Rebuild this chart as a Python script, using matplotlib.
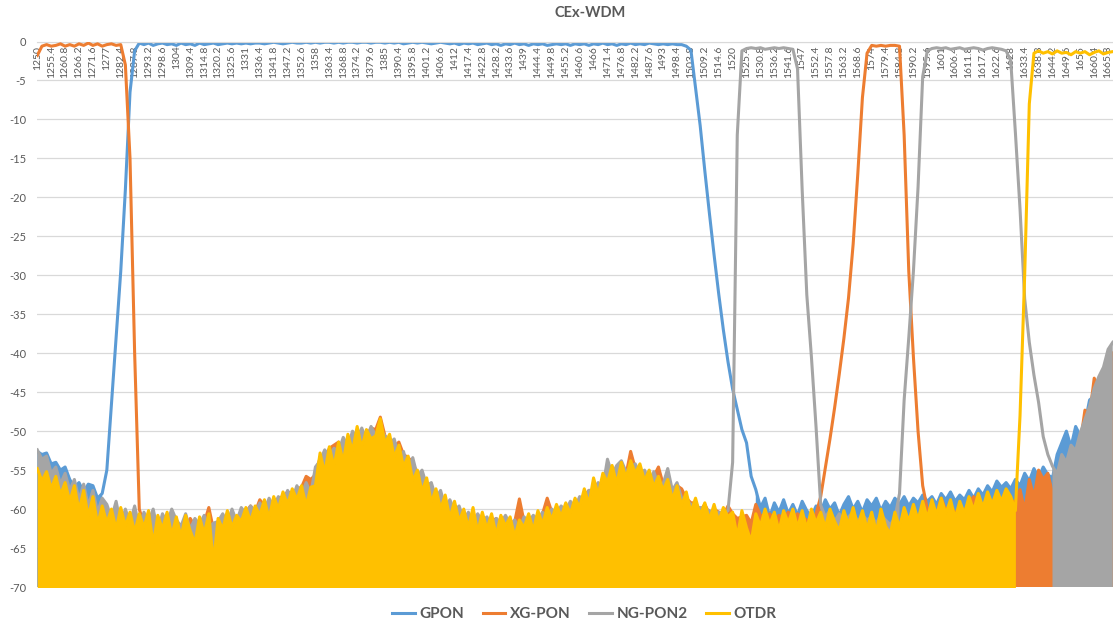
import numpy as np
import matplotlib.pyplot as plt

plt.rcParams['font.family'] = ['Lato', 'DejaVu Sans']
plt.rcParams['axes.unicode_minus'] = False

# wavelength categories (nm), one reading every 1.8 nm
wavelength = np.round(1250 + 1.8 * np.arange(233), 1)
# category labels shown on the axis (every 5.4 nm)
tick_vals = np.round(1250 + 5.4 * np.arange(78), 1)
tick_labels = ['%g' % v for v in tick_vals]

# insertion loss (dB)
gpon = [
    -52.6, -53.0, -52.8, -54.2, -54.0, -55.0, -54.6, -56.2, -57.2, -56.6, -57.8, -56.8, -57.0, -58.6, -58.0,
    -55.0, -46.5, -38.0, -29.5, -19.0, -6.5, -1.2, -0.2, -0.4, -0.2, -0.5, -0.3, -0.2, -0.4, -0.3,
    -0.5, -0.2, -0.4, -0.3, -0.5, -0.2, -0.4, -0.3, -0.2, -0.4, -0.3, -0.2, -0.3, -0.2, -0.3,
    -0.2, -0.3, -0.2, -0.2, -0.3, -0.2, -0.1, -0.2, -0.3, -0.2, -0.1, -0.2, -0.2, -0.1, -0.2,
    -0.1, -0.2, -0.1, -0.1, -0.2, -0.1, -0.2, -0.1, -0.1, -0.2, -0.1, -0.1, -0.2, -0.1, -0.1,
    -0.2, -0.1, -0.2, -0.1, -0.3, -0.2, -0.1, -0.2, -0.1, -0.2, -0.3, -0.2, -0.1, -0.2, -0.3,
    -0.2, -0.4, -0.2, -0.3, -0.2, -0.4, -0.3, -0.2, -0.4, -0.3, -0.5, -0.3, -0.4, -0.2, -0.4,
    -0.3, -0.5, -0.3, -0.4, -0.3, -0.5, -0.4, -0.3, -0.4, -0.3, -0.5, -0.3, -0.4, -0.3, -0.5,
    -0.3, -0.4, -0.2, -0.4, -0.3, -0.5, -0.3, -0.4, -0.2, -0.4, -0.3, -0.4, -0.2, -0.3, -0.4,
    -0.3, -0.4, -0.3, -0.4, -0.4, -0.6, -1.1, -5.9, -10.8, -16.6, -22.1, -27.4, -32.4, -37.0, -41.1,
    -44.6, -47.2, -49.8, -51.5, -55.8, -57.5, -59.8, -58.6, -61.0, -59.2, -60.4, -58.8, -60.6, -59.4, -60.8,
    -59.0, -60.2, -61.0, -59.6, -60.4, -58.8, -60.0, -59.2, -60.8, -59.4, -58.4, -60.0, -59.0, -60.4, -58.8,
    -59.6, -58.6, -60.2, -59.0, -59.8, -58.6, -59.4, -58.4, -59.6, -58.6, -59.2, -58.2, -59.0, -58.4, -59.4,
    -58.0, -58.8, -57.8, -59.0, -58.2, -58.8, -57.6, -58.6, -57.4, -58.2, -57.0, -57.8, -56.4, -57.2, -56.6,
    -57.4, -56.2, -57.0, -55.4, -56.4, -54.8, -56.0, -54.6, -55.6, -56.0, -53.0, -51.5, -50.0, -52.0, -49.4,
    -50.6, -49.0, -46.0, -45.5, -44.0, -43.5, -41.5, -40.5,
]
xgpon = [
    -1.8, -0.6, -0.4, -0.6, -0.5, -0.3, -0.6, -0.4, -0.6, -0.3, -0.5, -0.2, -0.5, -0.3, -0.6,
    -0.4, -0.3, -0.5, -0.4, -3.0, -15.0, -40.0, -60.0, -62.0, -60.6, -61.2, -61.6, -62.0, -61.4, -61.8,
    -62.2, -62.0, -62.6, -61.2, -62.2, -62.4, -61.8, -59.8, -62.6, -62.8, -61.6, -61.4, -61.6, -61.8, -61.0,
    -60.4, -59.6, -60.4, -58.8, -59.6, -59.0, -59.2, -58.6, -58.4, -57.8, -58.0, -57.4, -57.2, -55.8, -56.2,
    -55.6, -53.4, -53.6, -52.2, -51.8, -51.4, -52.8, -50.8, -51.2, -50.2, -50.0, -50.6, -49.6, -49.8, -48.2,
    -50.6, -51.2, -52.0, -51.4, -53.0, -53.4, -54.0, -55.6, -56.4, -57.0, -57.6, -58.2, -59.0, -59.2, -59.8,
    -59.6, -60.2, -61.0, -60.8, -61.4, -61.2, -61.8, -61.4, -61.6, -61.2, -62.0, -61.8, -61.8, -61.6, -58.7,
    -61.6, -62.0, -61.4, -61.2, -60.6, -58.6, -60.4, -60.6, -60.0, -59.8, -59.4, -59.2, -58.8, -58.4, -57.6,
    -58.0, -57.8, -57.0, -56.6, -55.6, -56.2, -55.4, -55.6, -52.6, -54.8, -55.8, -55.2, -56.2, -55.8, -54.6,
    -56.8, -55.8, -58.0, -57.0, -57.4, -58.6, -59.2, -59.2, -60.2, -59.4, -60.6, -60.0, -60.4, -60.8, -59.6,
    -60.6, -61.2, -61.0, -60.8, -61.8, -59.4, -60.8, -61.0, -60.6, -61.4, -60.8, -61.2, -60.4, -61.0, -60.6,
    -61.0, -61.4, -62.0, -60.6, -58.4, -54.7, -51.0, -47.0, -42.7, -38.1, -32.9, -26.0, -17.0, -7.2, -1.5,
    -0.5, -0.6, -0.5, -0.6, -0.5, -0.5, -0.6, -12.0, -29.5, -40.5, -50.0, -57.0, -60.0, -61.4, -60.6,
    -58.6, -60.2, -59.4, -60.6, -59.8, -60.2, -59.2, -58.4, -59.0, -60.2, -59.0, -59.4, -58.6, -59.0, -58.4,
    -59.0, -59.0, -57.5, -60.2, -56.2, -58.5, -55.0, -56.2, -55.4, -58.0, -57.0, -55.0, -54.5, -53.0, -52.8,
    -51.5, -47.3, -48.0, -43.2, -44.5, -43.5, -41.0, -40.0,
]
ngpon2 = [
    -52.4, -53.6, -53.2, -55.4, -54.6, -56.8, -55.4, -57.6, -56.2, -58.8, -56.8, -59.6, -57.6, -60.4, -58.6,
    -59.4, -61.2, -59.0, -62.0, -60.0, -61.8, -59.6, -62.4, -60.4, -61.6, -60.0, -62.8, -60.6, -61.8, -60.0,
    -61.4, -62.2, -60.6, -62.6, -61.2, -62.0, -60.8, -62.4, -61.8, -61.6, -60.6, -61.8, -60.0, -61.6, -59.8,
    -60.6, -59.6, -60.4, -59.2, -60.2, -58.6, -59.8, -58.4, -59.2, -57.6, -58.8, -57.0, -58.2, -56.6, -58.0,
    -54.6, -53.8, -52.4, -53.2, -52.2, -52.6, -50.8, -52.0, -50.0, -51.0, -49.6, -51.2, -49.4, -50.6, -49.8,
    -50.6, -51.6, -51.0, -53.4, -52.6, -54.8, -53.4, -55.8, -55.0, -57.0, -56.6, -58.6, -57.6, -59.8, -58.8,
    -60.2, -59.6, -61.4, -60.4, -62.0, -60.6, -61.6, -61.0, -62.4, -61.2, -61.8, -60.8, -62.0, -61.4, -62.6,
    -61.0, -61.6, -60.8, -61.4, -60.4, -61.0, -60.0, -60.6, -59.6, -60.2, -59.0, -59.8, -58.4, -58.8, -57.6,
    -57.6, -56.6, -57.2, -53.6, -55.6, -54.4, -53.8, -55.2, -54.6, -54.2, -55.6, -55.0, -56.6, -55.2, -57.0,
    -56.8, -54.8, -57.6, -56.6, -58.6, -58.8, -59.4, -59.8, -59.8, -60.0, -60.2, -60.8, -60.4, -60.6, -60.2,
    -54.0, -12.0, -1.2, -0.9, -0.8, -0.9, -0.8, -1.0, -0.9, -0.8, -0.9, -0.8, -0.9, -1.0, -3.5,
    -19.0, -32.5, -40.5, -49.5, -59.5, -61.0, -60.2, -61.6, -60.6, -61.8, -61.0, -60.4, -61.6, -60.8, -61.4,
    -61.0, -61.8, -60.8, -61.4, -62.0, -61.2, -58.0, -46.0, -38.0, -29.5, -18.7, -4.5, -1.2, -0.9, -0.8,
    -0.9, -0.8, -1.0, -0.9, -0.8, -1.0, -0.9, -0.8, -0.9, -1.1, -0.9, -0.8, -0.9, -1.0, -1.2,
    -2.5, -11.7, -21.5, -33.0, -38.6, -42.8, -46.3, -50.7, -53.0, -54.5, -55.5, -53.0, -54.0, -51.8, -52.5,
    -50.2, -48.5, -46.8, -44.5, -43.0, -41.8, -39.5, -38.6,
]
otdr = [
    -54.8, -56.4, -55.2, -57.4, -55.8, -58.2, -56.6, -59.0, -57.0, -60.2, -57.6, -61.0, -58.4, -62.0, -59.6,
    -61.8, -60.0, -62.6, -59.8, -62.2, -60.4, -63.0, -60.6, -62.4, -60.2, -64.6, -60.8, -62.6, -60.4, -63.4,
    -61.0, -63.6, -60.8, -62.8, -64.4, -61.0, -63.2, -60.6, -67.0, -61.2, -62.6, -60.2, -62.4, -60.8, -61.6,
    -59.8, -61.6, -59.6, -60.8, -58.8, -61.2, -58.4, -60.0, -57.8, -59.4, -57.4, -58.8, -57.0, -59.6, -57.2,
    -57.0, -52.8, -55.4, -52.0, -54.6, -51.4, -54.0, -50.4, -52.6, -49.4, -52.2, -49.8, -51.0, -50.6, -48.4,
    -51.6, -50.4, -53.4, -51.8, -54.6, -53.2, -56.4, -55.0, -57.8, -56.0, -59.2, -57.4, -60.0, -58.2, -61.2,
    -59.0, -61.6, -60.0, -62.4, -59.8, -63.0, -60.4, -62.6, -60.6, -63.4, -60.8, -62.2, -61.0, -63.6, -61.4,
    -62.4, -60.6, -62.8, -60.2, -62.0, -59.8, -61.4, -59.4, -61.0, -59.2, -60.6, -58.6, -59.8, -57.4, -59.4,
    -56.0, -58.2, -55.4, -56.6, -54.4, -56.8, -54.0, -56.0, -53.8, -55.4, -54.2, -56.4, -55.0, -57.2, -55.8,
    -57.6, -56.2, -58.8, -57.0, -59.6, -57.8, -60.4, -58.6, -60.8, -59.2, -61.4, -59.4, -61.6, -59.8, -61.0,
    -60.4, -63.6, -60.2, -62.4, -64.2, -60.6, -62.2, -60.0, -62.0, -60.4, -62.8, -60.2, -61.8, -60.0, -62.4,
    -60.2, -62.6, -60.0, -61.8, -60.4, -62.4, -60.0, -61.6, -62.8, -60.2, -62.0, -59.8, -62.2, -60.2, -62.6,
    -60.4, -63.0, -60.0, -62.2, -63.2, -60.4, -62.4, -59.8, -61.6, -59.4, -61.4, -59.0, -61.2, -58.8, -60.8,
    -58.6, -60.6, -58.8, -61.2, -59.0, -60.6, -58.4, -60.2, -58.0, -59.8, -57.8, -59.4, -57.6, -59.0, -57.4,
    -58.4, -60.2, -48.0, -30.0, -8.0, -1.5, -1.2, -1.5, -1.3, -1.6, -1.2, -1.5, -1.4, -1.7, -1.3,
    -1.5, -1.3, -1.7, -1.4, -1.2, -1.6, -1.4, -1.3,
]

# wavelength spans (nm) where each trace sits on the dense noise floor
gpon_floor = [(1250.0, 1275.2), (1529.0, 1667.6)]
xgpon_floor = [(1289.6, 1554.2), (1595.6, 1667.6)]
ngpon2_floor = [(1250.0, 1518.2), (1554.2, 1584.8), (1644.2, 1667.6)]
otdr_floor = [(1250.0, 1629.8)]

series = [
    ('GPON', gpon, '#5B9BD5', gpon_floor),
    ('XG-PON', xgpon, '#ED7D31', xgpon_floor),
    ('NG-PON2', ngpon2, '#A5A5A5', ngpon2_floor),
    ('OTDR', otdr, '#FFC000', otdr_floor),
]

fig = plt.figure(figsize=(11.13, 6.29), dpi=100)
ax = fig.add_axes([37.3 / 1113, 1 - 587 / 629, (1113 - 37.3) / 1113, (587 - 41.5) / 629])

for i, (name, vals, col, floor) in enumerate(series):
    v = np.array(vals)
    mask = np.zeros(len(wavelength), dtype=bool)
    for a, b in floor:
        mask |= (wavelength >= a - 0.01) & (wavelength <= b + 0.01)
    ax.fill_between(wavelength, v, -75, where=mask, color=col, lw=0, zorder=2 + i)
    ax.plot(wavelength, v, color=col, lw=2.2, label=name, zorder=2 + i)

ax.set_xlim(1250, 1667.7)
ax.set_ylim(-70, 0)
ax.set_yticks(range(-70, 1, 5))
ax.grid(axis='y', color='#D9D9D9', linewidth=0.9)
ax.set_axisbelow(True)
for s in ['left', 'right', 'bottom']:
    ax.spines[s].set_visible(False)
ax.spines['top'].set_color('#D9D9D9')
ax.tick_params(axis='y', length=0, pad=8, labelsize=8, labelcolor='#595959')

# category labels hang just below the 0 dB axis line
ax.set_xticks(tick_vals, tick_labels)
ax.tick_params(axis='x', bottom=False, labelbottom=False, top=True, labeltop=True,
               length=0, pad=-3, labelrotation=90, labelsize=7.5, labelcolor='#595959')
for t in ax.xaxis.get_major_ticks():
    t.label2.set_verticalalignment('top')

fig.text(0.53, 0.979, 'CEx-WDM', ha='center', va='center', fontsize=10.5,
         fontweight='bold', color='#595959')

fig.legend(loc='center', bbox_to_anchor=(0.525, 0.024), ncol=4, frameon=False,
           prop={'weight': 'bold', 'size': 11}, labelcolor='#595959',
           handlelength=1.5, handletextpad=0.3, columnspacing=1.2)

fig.savefig('out.png', dpi=100)
